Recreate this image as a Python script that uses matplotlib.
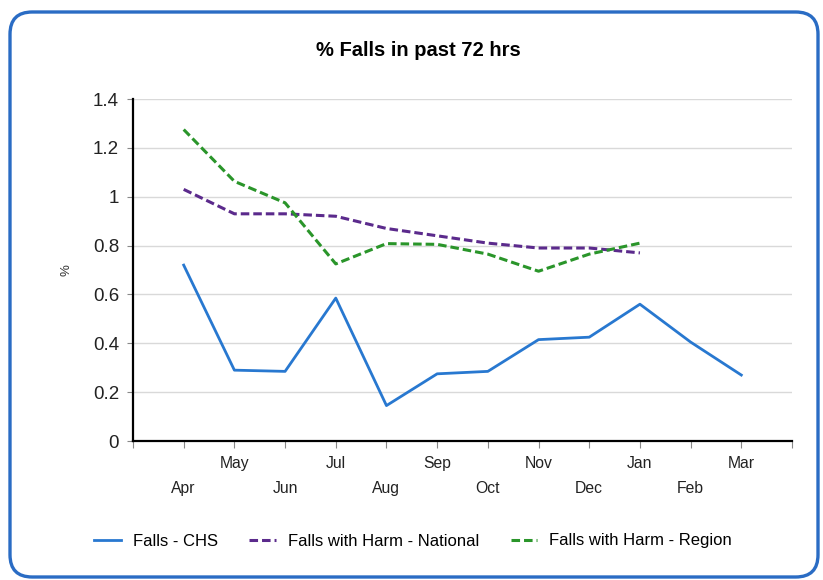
import matplotlib.pyplot as plt
from matplotlib.patches import FancyBboxPatch

plt.rcParams['font.family'] = ['Liberation Sans', 'DejaVu Sans']

months = ['Apr', 'May', 'Jun', 'Jul', 'Aug', 'Sep', 'Oct', 'Nov', 'Dec', 'Jan', 'Feb', 'Mar']
chs = [0.72, 0.29, 0.285, 0.585, 0.145, 0.275, 0.285, 0.415, 0.425, 0.56, 0.405, 0.27]
national = [1.03, 0.93, 0.93, 0.92, 0.87, 0.84, 0.81, 0.79, 0.79, 0.77]
region = [1.275, 1.063, 0.975, 0.725, 0.808, 0.805, 0.765, 0.695, 0.765, 0.81]

fig = plt.figure(figsize=(8.23, 5.8), dpi=100)

# rounded blue frame round the whole chart
frame = FancyBboxPatch((10 / 823, 3 / 580), 808 / 823, 565 / 580,
                       boxstyle='round,pad=0,rounding_size=0.027',
                       mutation_aspect=823 / 580, transform=fig.transFigure,
                       fill=False, edgecolor='#2a6cc4', linewidth=2.4)
fig.patches.append(frame)

ax = fig.add_axes([133 / 823, 1 - 441 / 580, 659 / 823, 342 / 580])

x = list(range(1, 13))
ax.plot(x, chs, color='#2878d0', lw=2.0, label='Falls - CHS')
ax.plot(x[:len(national)], national, color='#5b2a8c', lw=2.2, ls=(0, (2.8, 1.3)),
        label='Falls with Harm - National')
ax.plot(x[:len(region)], region, color='#2a952a', lw=2.2, ls=(0, (2.8, 1.3)),
        label='Falls with Harm - Region')

ax.set_xlim(0, 13)
ax.set_ylim(0, 1.4)
ax.set_yticks([0, 0.2, 0.4, 0.6, 0.8, 1.0, 1.2, 1.4])
ax.set_yticklabels(['0', '0.2', '0.4', '0.6', '0.8', '1', '1.2', '1.4'], fontsize=13.5, color='#222222')
ax.grid(axis='y', color='#d9d9d9', lw=1)
ax.set_axisbelow(True)

ax.set_xticks(range(0, 14))
ax.set_xticklabels([''] + months + [''], fontsize=11.3, color='#222222')
for i, t in enumerate(ax.xaxis.get_major_ticks()):
    if i % 2 == 1:
        t.set_pad(23.5)
    else:
        t.set_pad(5.5)
ax.tick_params(axis='x', length=5, color='#888888')
ax.tick_params(axis='y', length=4, color='#888888', pad=6)

for s in ['top', 'right']:
    ax.spines[s].set_visible(False)
ax.spines['left'].set_linewidth(1.6)
ax.spines['bottom'].set_linewidth(1.6)

ax.set_ylabel('%', fontsize=9.5, labelpad=15, color='#333333')

fig.text(418 / 823, 1 - 50 / 580, '% Falls in past 72 hrs', ha='center', va='center',
         fontsize=14.5, fontweight='bold')

fig.legend(loc='center', bbox_to_anchor=(413 / 823, 1 - 541 / 580), ncol=3, frameon=False,
           fontsize=12, handlelength=1.6, columnspacing=1.9, handletextpad=0.7)

fig.savefig('out.png', dpi=100)
